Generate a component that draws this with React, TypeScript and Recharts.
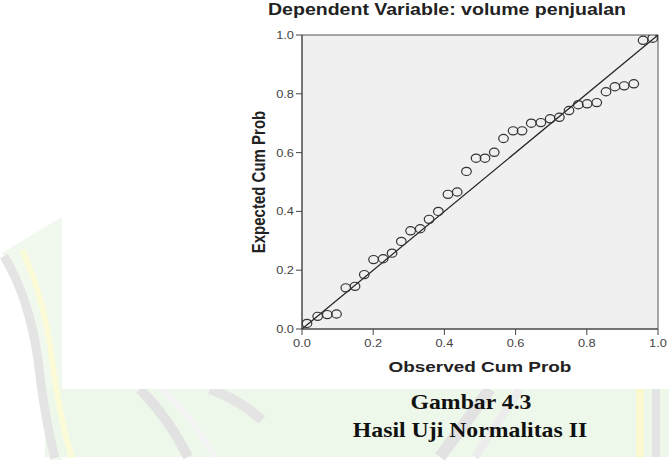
import React from "react";
import {
  ScatterChart,
  Scatter,
  XAxis,
  YAxis,
  ReferenceArea,
  ReferenceLine,
} from "recharts";

const observedCumProb = [
  0.014, 0.044, 0.071, 0.097, 0.123, 0.149, 0.175, 0.201, 0.228, 0.253,
  0.279, 0.305, 0.332, 0.357, 0.383, 0.41, 0.436, 0.462, 0.489, 0.514,
  0.54, 0.566, 0.593, 0.618, 0.644, 0.671, 0.697, 0.723, 0.75, 0.776,
  0.801, 0.828, 0.854, 0.879, 0.905, 0.932, 0.958, 0.985,
];

const expectedCumProb = [
  0.019, 0.043, 0.049, 0.051, 0.14, 0.145, 0.185, 0.236, 0.239, 0.258,
  0.298, 0.334, 0.341, 0.373, 0.4, 0.458, 0.466, 0.536, 0.581, 0.581,
  0.601, 0.648, 0.674, 0.674, 0.7, 0.702, 0.715, 0.72, 0.743, 0.763,
  0.766, 0.77, 0.807, 0.824, 0.827, 0.834, 0.982, 0.989,
];

const axisTicks = [0, 0.2, 0.4, 0.6, 0.8, 1.0];

const points = observedCumProb.map((x, i) => ({ x, y: expectedCumProb[i] }));

const SANS = '"Liberation Sans", Arial, sans-serif';
const SERIF = '"Liberation Serif", "Times New Roman", serif';
const STRETCH = 1.22;

const XTick = (props: any) => {
  const { x, y, payload } = props;
  return (
    <text
      transform={`translate(${x},${y + 10}) scale(${STRETCH},1)`}
      textAnchor="middle"
      fontSize={10.5}
      fontFamily={SANS}
      fill="#444"
    >
      {Number(payload.value).toFixed(1)}
    </text>
  );
};

const YTick = (props: any) => {
  const { x, y, payload } = props;
  return (
    <text
      transform={`translate(${x},${y + 4}) scale(${STRETCH},1)`}
      textAnchor="end"
      fontSize={10.5}
      fontFamily={SANS}
      fill="#444"
    >
      {Number(payload.value).toFixed(1)}
    </text>
  );
};

const Ring = (props: any) => (
  <ellipse
    cx={props.cx}
    cy={props.cy}
    rx={4.8}
    ry={4.1}
    fill="none"
    stroke="#333"
    strokeWidth={1.2}
  />
);

// faint watermark behind the figure
function Watermark() {
  return (
    <svg width={669} height={468} style={{ position: "absolute", left: 0, top: 0 }}>
      <rect x={0} y={0} width={669} height={468} fill="#fff" />
      <path d="M2,253 L62,217 L62,460 L50,460 Q35,340 10,268 Z" fill="#f1f8ee" />
      <rect x={45} y={389} width={624} height={68} fill="#eef8ea" />
      <path d="M4,256 Q30,300 38,360 Q45,420 55,458" fill="none" stroke="#e4e4e4" strokeWidth={9} />
      <path d="M22,250 Q45,300 52,360 Q60,420 72,458" fill="none" stroke="#fbfbd8" strokeWidth={6} />
      <path d="M140,389 Q170,420 188,457" fill="none" stroke="#e2e2e2" strokeWidth={10} />
      <path d="M162,389 Q195,420 214,457" fill="none" stroke="#f4f4f4" strokeWidth={6} />
      <path d="M210,389 Q240,400 262,420" fill="none" stroke="#e4e4e4" strokeWidth={10} />
      <path d="M490,389 L440,457" fill="none" stroke="#e2e2e2" strokeWidth={12} />
      <path d="M520,389 L475,457" fill="none" stroke="#ececec" strokeWidth={8} />
      <path d="M640,389 L640,457" fill="none" stroke="#fbf8cf" strokeWidth={8} />
      <path d="M656,389 L656,457" fill="none" stroke="#e4e4e4" strokeWidth={8} />
      <rect x={62} y={0} width={607} height={389} fill="#fff" />
    </svg>
  );
}

export default function App() {
  return (
    <div
      style={{
        position: "absolute",
        left: 0,
        top: 0,
        width: 669,
        height: 468,
        overflow: "hidden",
        fontFamily: SANS,
      }}
    >
      <Watermark />
      <div style={{ position: "absolute", left: 0, top: 0 }}>
        <ScatterChart
          width={669}
          height={468}
          margin={{ top: 35, right: 11, bottom: 109, left: 262 }}
        >
          <XAxis
            type="number"
            dataKey="x"
            domain={[0, 1]}
            ticks={axisTicks}
            height={30}
            tick={<XTick />}
            tickSize={6}
            tickLine={{ stroke: "#444" }}
            axisLine={{ stroke: "#444" }}
            allowDataOverflow
          />
          <YAxis
            type="number"
            dataKey="y"
            domain={[0, 1]}
            ticks={axisTicks}
            width={40}
            tick={<YTick />}
            tickSize={6}
            tickLine={{ stroke: "#444" }}
            axisLine={{ stroke: "#444" }}
            allowDataOverflow
          />
          <ReferenceArea
            x1={0}
            x2={1}
            y1={0}
            y2={1}
            fill="#f0f0f0"
            fillOpacity={1}
            stroke="#555"
            strokeWidth={1}
            ifOverflow="visible"
          />
          <ReferenceLine
            segment={[
              { x: 0, y: 0 },
              { x: 1, y: 1 },
            ]}
            stroke="#222"
            strokeWidth={1.2}
            ifOverflow="visible"
          />
          <Scatter data={points} shape={<Ring />} isAnimationActive={false} />
        </ScatterChart>
      </div>

      <div
        style={{
          position: "absolute",
          left: 447,
          top: 1,
          transform: `translateX(-50%) scaleX(${STRETCH})`,
          fontSize: 16,
          fontWeight: "bold",
          color: "#222",
          whiteSpace: "nowrap",
        }}
      >
        Dependent Variable: volume penjualan
      </div>

      <div
        style={{
          position: "absolute",
          left: 480,
          top: 358,
          transform: `translateX(-50%) scaleX(${STRETCH})`,
          fontSize: 15.5,
          fontWeight: "bold",
          color: "#222",
          whiteSpace: "nowrap",
        }}
      >
        Observed Cum Prob
      </div>

      <div
        style={{
          position: "absolute",
          left: 258,
          top: 182,
          transform: `translate(-50%, -50%) scaleX(${STRETCH}) rotate(-90deg)`,
          fontSize: 15,
          fontWeight: "bold",
          color: "#222",
          whiteSpace: "nowrap",
        }}
      >
        Expected Cum Prob
      </div>

      <div
        style={{
          position: "absolute",
          left: 471,
          top: 389,
          transform: "translateX(-50%) scaleX(1.08)",
          fontFamily: SERIF,
          fontSize: 22,
          fontWeight: "bold",
          color: "#111",
          whiteSpace: "nowrap",
        }}
      >
        Gambar 4.3
      </div>

      <div
        style={{
          position: "absolute",
          left: 470,
          top: 417,
          transform: "translateX(-50%) scaleX(1.08)",
          fontFamily: SERIF,
          fontSize: 22,
          fontWeight: "bold",
          color: "#111",
          whiteSpace: "nowrap",
        }}
      >
        Hasil Uji Normalitas II
      </div>
    </div>
  );
}
